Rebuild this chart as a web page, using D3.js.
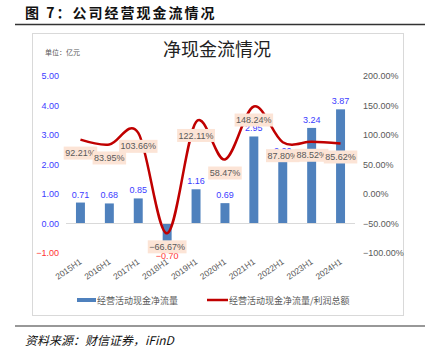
<!DOCTYPE html>
<html><head><meta charset="utf-8">
<script src="https://cdn.jsdelivr.net/npm/d3@7"></script>
<style>
html,body{margin:0;padding:0;background:#fff;}
svg{display:block;}
</style></head>
<body>
<script>
const categories = ["2015H1","2016H1","2017H1","2018H1","2019H1","2020H1","2021H1","2022H1","2023H1","2024H1"];
const cashFlow = [0.71, 0.68, 0.85, -0.70, 1.16, 0.69, 2.95, 2.20, 3.24, 3.87];
const ratio = [92.21, 83.95, 103.66, -66.67, 122.11, 58.47, 148.24, 87.80, 88.52, 85.62];
const leftTicks = [-1, 0, 1, 2, 3, 4, 5];
const rightTicks = [-100, -50, 0, 50, 100, 150, 200];
const seriesNames = ["经营活动现金净流量", "经营活动现金净流量/利润总额"];

const W = 425, H = 359;
const svg = d3.select("body").append("svg").attr("width", W).attr("height", H);
svg.append("rect").attr("width", W).attr("height", H).attr("fill", "#fff");

const cjk = "'Noto Sans CJK SC', sans-serif";
const num = "'Liberation Sans', 'DejaVu Sans', sans-serif";

// Figure title
svg.append("text").attr("x", 25).attr("y", 18).attr("font-family", cjk).attr("font-weight", 700)
  .attr("font-size", 14).attr("letter-spacing", 2).attr("fill", "#111").text("图 7：公司经营现金流情况");
svg.append("line").attr("x1", 15).attr("x2", 425).attr("y1", 24.5).attr("y2", 24.5).attr("stroke", "#333").attr("stroke-width", 1.5);

// Chart frame
svg.append("rect").attr("x", 32.5).attr("y", 33.5).attr("width", 371).attr("height", 282)
  .attr("fill", "#fff").attr("stroke", "#d9d9d9");

svg.append("text").attr("x", 217).attr("y", 56).attr("text-anchor", "middle").attr("font-family", cjk)
  .attr("font-size", 18).attr("fill", "#222").text("净现金流情况");
svg.append("text").attr("x", 45).attr("y", 55).attr("font-family", cjk)
  .attr("font-size", 7).attr("fill", "#595959").text("单位：亿元");

// Scales
const x = d3.scaleBand().domain(categories).range([66, 355]).paddingInner(0.69).paddingOuter(0.345);
const cx = d => x(d) + x.bandwidth() / 2;
const yL = d3.scaleLinear().domain([-1, 5]).range([253, 76]);
const yR = d3.scaleLinear().domain([-100, 200]).range([253, 76]);

// Left axis
const axL = svg.append("g").attr("transform", "translate(59,0)")
  .call(d3.axisLeft(yL).tickValues(leftTicks).tickFormat(d3.format(".2f")).tickSize(0).tickPadding(0));
axL.select(".domain").remove();
axL.selectAll("text").attr("font-family", num).attr("font-size", 9)
  .attr("fill", d => d < 0 ? "#ff3333" : "#3c3cff");

// Right axis
const axR = svg.append("g").attr("transform", "translate(363,0)")
  .call(d3.axisRight(yR).tickValues(rightTicks).tickFormat(d => d3.format(".2f")(d) + "%").tickSize(0).tickPadding(0));
axR.select(".domain").remove();
axR.selectAll("text").attr("font-family", num).attr("font-size", 9).attr("fill", "#595959");

// Bars
svg.append("g").selectAll("rect").data(cashFlow).join("rect")
  .attr("x", (d, i) => x(categories[i])).attr("width", x.bandwidth())
  .attr("y", d => Math.min(yL(d), yL(0))).attr("height", d => Math.abs(yL(d) - yL(0)))
  .attr("fill", "#4f81bd");

// Zero line
svg.append("line").attr("x1", 66).attr("x2", 355).attr("y1", yL(0)).attr("y2", yL(0))
  .attr("stroke", "#d9d9d9").attr("stroke-width", 1);

// Bar labels
svg.append("g").selectAll("text").data(cashFlow).join("text")
  .attr("x", (d, i) => cx(categories[i]))
  .attr("y", d => d >= 0 ? yL(d) - 5 : yL(d) + 15)
  .attr("text-anchor", "middle").attr("font-family", num).attr("font-size", 9)
  .attr("fill", d => d < 0 ? "#ff3333" : "#3c3cff")
  .text(d => d3.format(".2f")(d));

// X labels
svg.append("g").selectAll("text").data(categories).join("text")
  .attr("transform", d => `translate(${cx(d) + 2},${263}) rotate(-35)`)
  .attr("text-anchor", "end").attr("font-family", num).attr("font-size", 8.5).attr("fill", "#595959")
  .text(d => d);

// Line
const line = d3.line().x((d, i) => cx(categories[i])).y(d => yR(d)).curve(d3.curveCardinal.tension(0));
svg.append("path").datum(ratio).attr("d", line).attr("fill", "none")
  .attr("stroke", "#c00000").attr("stroke-width", 2.5);

// Percent labels
const pl = svg.append("g").selectAll("g").data(ratio).join("g")
  .attr("transform", (d, i) => `translate(${cx(categories[i])},${yR(d) + 13.5})`);
pl.append("rect").attr("x", -15).attr("y", -6.5).attr("width", 30).attr("height", 13).attr("fill", "#fce4d6");
pl.append("text").attr("text-anchor", "middle").attr("dy", "0.35em").attr("font-family", num)
  .attr("font-size", 9).attr("fill", "#595959").text(d => d3.format(".2f")(d) + "%");
pl.each(function() {
  const t = d3.select(this).select("text").node().getBBox();
  d3.select(this).select("rect").attr("x", t.x - 1.5).attr("width", t.width + 3);
});

// Legend
svg.append("rect").attr("x", 77).attr("y", 298).attr("width", 19).attr("height", 4).attr("fill", "#4f81bd");
svg.append("text").attr("x", 97).attr("y", 303.5).attr("font-family", cjk).attr("font-size", 9)
  .attr("fill", "#595959").text(seriesNames[0]);
svg.append("line").attr("x1", 207).attr("x2", 228).attr("y1", 300).attr("y2", 300)
  .attr("stroke", "#c00000").attr("stroke-width", 2.5);
svg.append("text").attr("x", 229).attr("y", 303.5).attr("font-family", cjk).attr("font-size", 9)
  .attr("fill", "#595959").text(seriesNames[1]);

// Source
svg.append("line").attr("x1", 15).attr("x2", 425).attr("y1", 326).attr("y2", 326).attr("stroke", "#333").attr("stroke-width", 1.2);
svg.append("text").attr("x", 25).attr("y", 345).attr("font-family", cjk).attr("font-style", "italic")
  .attr("font-size", 12).attr("fill", "#111").text("资料来源：财信证券，iFinD");
</script>
</body></html>
